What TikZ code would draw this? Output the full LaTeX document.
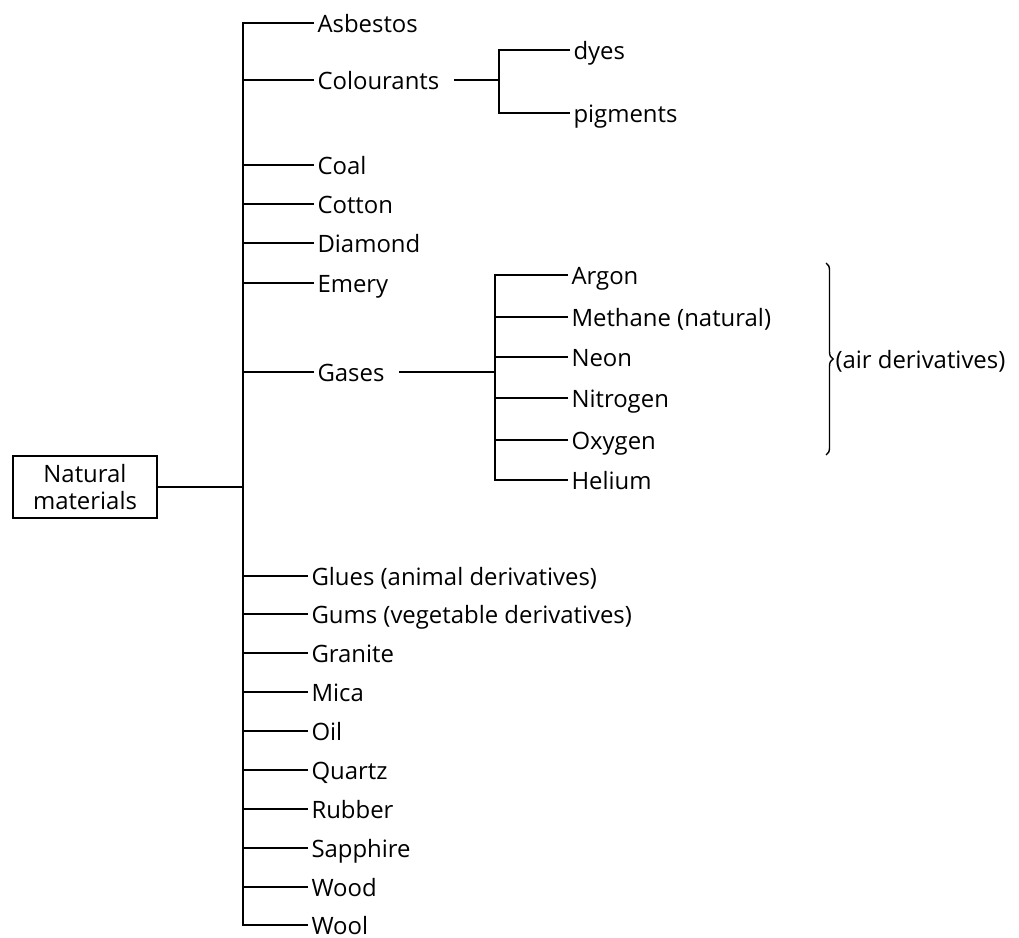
\documentclass[tikz,border=0pt]{standalone}
\usepackage{fontspec}
\setmainfont{Open Sans}
\usetikzlibrary{positioning,decorations.pathreplacing}

\tikzset{
  item/.style={anchor=west, inner sep=2pt, text height=15pt, text depth=2pt},
  rootbox/.style={draw, line width=1.8pt, align=center, minimum width=3.6cm, minimum height=1.55cm, inner sep=2pt},
}

\begin{document}
\begin{tikzpicture}[x=0.025cm, y=-0.025cm, line width=1pt, font=\fontsize{17}{19}\selectfont]
\useasboundingbox (0,0) rectangle (1019,938);

\node (natural) [rootbox] at (85,487) {Natural\\materials};
\coordinate (trunk) at (243,487);

% first group
\node (asbestos) [item] at (314,23) {Asbestos};
\node (colourants) [item] at (314,80) {Colourants};
\node (coal) [item] at (314,165) {Coal};
\node (cotton) [item] at (314,204) {Cotton};
\node (diamond) [item] at (314,243) {Diamond};
\node (emery) [item] at (314,283) {Emery};
\node (gases) [item] at (314,372) {Gases};

% colourants
\coordinate (cfork) at (499,80);
\node (dyes) [item] at (570,50) {dyes};
\node (pigments) [item] at (570,113) {pigments};

% gases
\coordinate (gfork) at (495,372);
\node (argon) [item] at (568,275) {Argon};
\node (methane) [item] at (568,317) {Methane (natural)};
\node (neon) [item] at (568,357) {Neon};
\node (nitrogen) [item] at (568,398) {Nitrogen};
\node (oxygen) [item] at (568,440) {Oxygen};
\node (helium) [item] at (568,480) {Helium};
\coordinate (btop) at (826,263);
\coordinate (bbot) at (826,455);
\node (air) [item] at (832,359) {(air derivatives)};

% second group
\node (glues) [item] at (308,576) {Glues (animal derivatives)};
\node (gums) [item] at (308,614) {Gums (vegetable derivatives)};
\node (granite) [item] at (308,653) {Granite};
\node (mica) [item] at (308,692) {Mica};
\node (oil) [item] at (308,731) {Oil};
\node (quartz) [item] at (308,770) {Quartz};
\node (rubber) [item] at (308,809) {Rubber};
\node (sapphire) [item] at (308,848) {Sapphire};
\node (wood) [item] at (308,887) {Wood};
\node (wool) [item] at (308,925) {Wool};

\draw (natural) -- (trunk);
\draw (asbestos.west) -| (trunk) |- (wool.west);
\draw (colourants.west) -- (colourants.west -| trunk);
\draw (coal.west) -- (coal.west -| trunk);
\draw (cotton.west) -- (cotton.west -| trunk);
\draw (diamond.west) -- (diamond.west -| trunk);
\draw (emery.west) -- (emery.west -| trunk);
\draw (gases.west) -- (gases.west -| trunk);
\draw (glues.west) -- (glues.west -| trunk);
\draw (gums.west) -- (gums.west -| trunk);
\draw (granite.west) -- (granite.west -| trunk);
\draw (mica.west) -- (mica.west -| trunk);
\draw (oil.west) -- (oil.west -| trunk);
\draw (quartz.west) -- (quartz.west -| trunk);
\draw (rubber.west) -- (rubber.west -| trunk);
\draw (sapphire.west) -- (sapphire.west -| trunk);
\draw (wood.west) -- (wood.west -| trunk);

\draw[shorten <=8pt] (colourants.east) -- (cfork);
\draw (dyes.west) -| (cfork) |- (pigments.west);

\draw[shorten <=8pt] (gases.east) -- (gfork);
\draw (argon.west) -| (gfork) |- (helium.west);
\draw (methane.west) -- (methane.west -| gfork);
\draw (neon.west) -- (neon.west -| gfork);
\draw (nitrogen.west) -- (nitrogen.west -| gfork);
\draw (oxygen.west) -- (oxygen.west -| gfork);

\draw[decorate, decoration={brace, amplitude=5pt}] (btop) -- (bbot);
\end{tikzpicture}
\end{document}
